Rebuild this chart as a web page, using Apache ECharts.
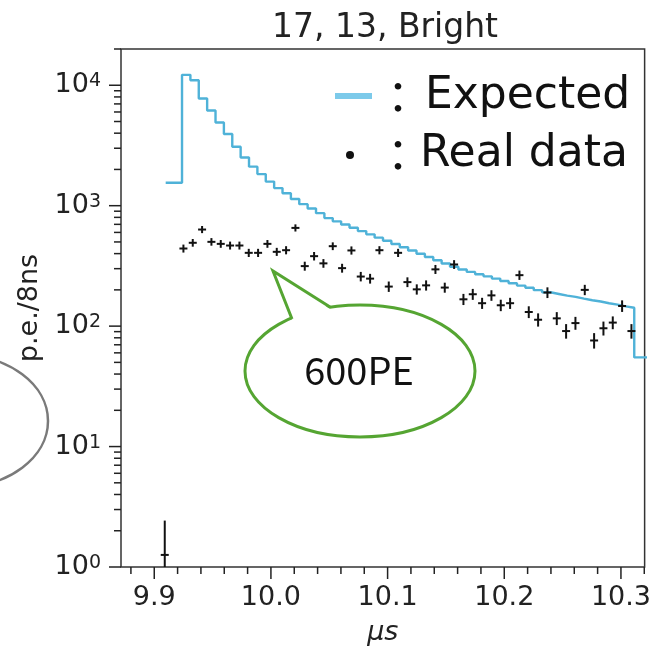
<!DOCTYPE html>
<html>
<head>
<meta charset="utf-8">
<script src="https://cdn.jsdelivr.net/npm/echarts@6/dist/echarts.min.js"></script>
<style>
  html, body { margin: 0; padding: 0; background: #fff; }
  #chart { width: 654px; height: 651px; }
</style>
</head>
<body>
<div id="chart"></div>
<script>
// x axis (microseconds) and y axis (p.e./8ns, log)
const xMin = 9.8715;
const xMax = 10.3203;
const yMin = 1;
const yMax = 20000;

const xMajorTicks = [9.9, 10.0, 10.1, 10.2, 10.3];
const xMinorTicks = [9.88, 9.92, 9.94, 9.96, 9.98, 10.02, 10.04, 10.06, 10.08,
  10.12, 10.14, 10.16, 10.18, 10.22, 10.24, 10.26, 10.28, 10.32];
const yMajorTicks = [1, 10, 100, 1000, 10000];
const yMinorTicks = [2, 3, 4, 5, 6, 7, 8, 9, 20, 30, 40, 50, 60, 70, 80, 90,
  200, 300, 400, 500, 600, 700, 800, 900, 2000, 3000, 4000, 5000, 6000, 7000,
  8000, 9000, 20000];

// expected histogram: first (low) bin, then the main bins, then the tail bin
const expStart = 9.9098;
const expRise = 9.9238;
const expBin = 0.0071778;
const expFirst = 1550;
const expValues = [12200, 11000, 7760, 6170, 4900, 3940, 3090, 2510, 2110, 1830,
  1585, 1400, 1268, 1135, 1030, 948, 867, 789, 741, 697,
  655, 615, 578, 543, 511, 481, 452, 425, 399, 375,
  352, 331, 311, 295, 282, 270, 259, 248, 237, 227,
  217, 208, 199, 191, 185, 179, 175, 169, 164, 160,
  155, 151, 146, 142];
const expTail = 55;

// real data, 8 ns bins (null = empty bin)
const dataStart = 9.909;
const dataBin = 0.008;
const realData = [1.26, null, 441, 492, 634, 501, 482, 467, 467, 406,
  406, 482, 414, 427, 654, 315, 381, 332, 461, 303,
  425, 258, 248, 427, 213, 406, 232, 202, 218, 296,
  209, 325, 167, 184, 155, 180, 149, 155, 265, 131,
  113, 190, 116, 91, 106, 200, 76, 96, 107, 147, 91];
const realErr = [1.1, null, 21, 22, 25, 22, 22, 22, 22, 20,
  20, 22, 20, 21, 26, 18, 20, 18, 21, 17,
  21, 16, 16, 21, 15, 20, 15, 14, 15, 17,
  14, 18, 13, 14, 12, 13, 12, 12, 16, 11,
  11, 14, 11, 10, 10, 14, 9, 10, 10, 12, 10];

const expSeries = [[expStart, expFirst]];
expValues.forEach((v, i) => expSeries.push([expRise + i * expBin, v]));
expSeries.push([expRise + expValues.length * expBin, expTail]);
expSeries.push([xMax + 0.02, expTail]);

const realSeries = [];
realData.forEach((v, i) => {
  if (v != null) realSeries.push([dataStart + i * dataBin, v, realErr[i]]);
});

const chart = echarts.init(document.getElementById('chart'));
const font = '"DejaVu Sans", sans-serif';
const ink = '#222';

function tickSeries(data, dx, dy) {
  return {
    type: 'custom',
    silent: true,
    clip: false,
    z: 5,
    data: data,
    renderItem: (params, api) => {
      const p = api.coord([api.value(0), api.value(1)]);
      return {
        type: 'line',
        shape: { x1: p[0], y1: p[1], x2: p[0] + dx, y2: p[1] + dy },
        style: { stroke: ink, lineWidth: 1.5 }
      };
    }
  };
}

const option = {
  animation: false,
  backgroundColor: '#fff',
  grid: {
    left: 121, top: 49, width: 525, height: 520,
    show: true, borderColor: '#333', borderWidth: 1.5
  },
  xAxis: {
    type: 'value', min: xMin, max: xMax, splitNumber: 5,
    axisLine: { show: false }, axisTick: { show: false }, splitLine: { show: false },
    axisLabel: {
      formatter: v => v.toFixed(1), fontSize: 27, fontFamily: font, color: ink,
      margin: 17, showMinLabel: false, showMaxLabel: false
    },
    name: 'μs', nameLocation: 'middle', nameGap: 52,
    nameTextStyle: { fontSize: 27, fontFamily: font, fontStyle: 'italic', color: ink }
  },
  yAxis: {
    type: 'log', logBase: 10, min: yMin, max: yMax,
    axisLine: { show: false }, axisTick: { show: false }, splitLine: { show: false },
    axisLabel: {
      margin: 20, showMaxLabel: false,
      formatter: v => '{b|10}{s|' + Math.round(Math.log10(v)) + '}',
      rich: {
        b: { fontSize: 27, fontFamily: font, color: ink },
        s: { fontSize: 19, fontFamily: font, color: ink, verticalAlign: 'top' }
      }
    },
    name: 'p.e./8ns', nameLocation: 'middle', nameGap: 76, nameRotate: 90,
    nameTextStyle: { fontSize: 27, fontFamily: font, color: ink }
  },
  series: [
    {
      name: 'Expected', type: 'line', step: 'end', data: expSeries,
      showSymbol: false, symbol: 'none', clip: true,
      lineStyle: { color: '#4fb2d8', width: 2.4 }, z: 3
    },
    {
      name: 'Real data', type: 'custom', data: realSeries, clip: true, z: 4,
      renderItem: (params, api) => {
        const x = api.value(0), v = api.value(1), e = api.value(2);
        const c = api.coord([x, v]);
        const hi = api.coord([x, v + e]);
        const lo = api.coord([x, Math.max(v - e, 0.01)]);
        const st = { stroke: '#111', lineWidth: 2 };
        return {
          type: 'group',
          children: [
            { type: 'line', shape: { x1: c[0] - 4, y1: c[1], x2: c[0] + 4, y2: c[1] }, style: st },
            { type: 'line', shape: { x1: c[0], y1: hi[1] - 1.5, x2: c[0], y2: lo[1] + 1.5 }, style: st }
          ]
        };
      }
    },
    tickSeries(yMajorTicks.map(v => [xMin, v]), -12, 0),
    tickSeries(yMinorTicks.map(v => [xMin, v]), -7, 0),
    tickSeries(xMajorTicks.map(v => [v, yMin]), 0, 12),
    tickSeries(xMinorTicks.map(v => [v, yMin]), 0, 7)
  ],
  graphic: [
    { type: 'text', x: 385, y: 28, z: 10,
      style: { text: '17, 13, Bright', font: '33px "DejaVu Sans"', fill: ink,
        align: 'center', verticalAlign: 'middle', textAlign: 'center', textVerticalAlign: 'middle' } },
    // legend
    { type: 'rect', shape: { x: 335, y: 93, width: 37, height: 6 }, style: { fill: '#7ccaea' }, z: 10 },
    { type: 'text', x: 398, y: 97, z: 10,
      style: { text: '：', font: '44px "Noto Sans CJK JP"', fill: '#111',
        align: 'center', verticalAlign: 'middle', textAlign: 'center', textVerticalAlign: 'middle' } },
    { type: 'text', x: 425, y: 97, z: 10,
      style: { text: 'Expected', font: '44px "DejaVu Sans"', fill: '#111',
        align: 'left', verticalAlign: 'middle', textAlign: 'left', textVerticalAlign: 'middle' } },
    { type: 'circle', shape: { cx: 350, cy: 155, r: 4 }, style: { fill: '#111' }, z: 10 },
    { type: 'text', x: 398, y: 155, z: 10,
      style: { text: '：', font: '44px "Noto Sans CJK JP"', fill: '#111',
        align: 'center', verticalAlign: 'middle', textAlign: 'center', textVerticalAlign: 'middle' } },
    { type: 'text', x: 420, y: 155, z: 10,
      style: { text: 'Real data', font: '44px "DejaVu Sans"', fill: '#111',
        align: 'left', verticalAlign: 'middle', textAlign: 'left', textVerticalAlign: 'middle' } },
    // speech bubble
    { type: 'ellipse', shape: { cx: 360, cy: 371, rx: 115, ry: 66 },
      style: { fill: '#fff', stroke: '#55a532', lineWidth: 3 }, z: 11 },
    { type: 'polygon', shape: { points: [[293, 321], [273, 271], [330, 309], [326, 313], [297, 323]] },
      style: { fill: '#fff' }, z: 12 },
    { type: 'polyline', shape: { points: [[292, 319], [273, 271], [330, 307]] },
      style: { stroke: '#55a532', lineWidth: 3, fill: null, lineJoin: 'miter' }, z: 13 },
    { type: 'text', x: 359, y: 371, z: 14,
      style: { text: '600PE', font: '38px "Noto Sans CJK JP"', fill: '#111',
        align: 'center', verticalAlign: 'middle', textAlign: 'center', textVerticalAlign: 'middle' } },
    // gray ellipse at left
    { type: 'ellipse', shape: { cx: -40, cy: 421, rx: 88, ry: 66 },
      style: { fill: null, stroke: '#7a7a7a', lineWidth: 2.5 }, z: 11 }
  ]
};

chart.setOption(option);
</script>
</body>
</html>
